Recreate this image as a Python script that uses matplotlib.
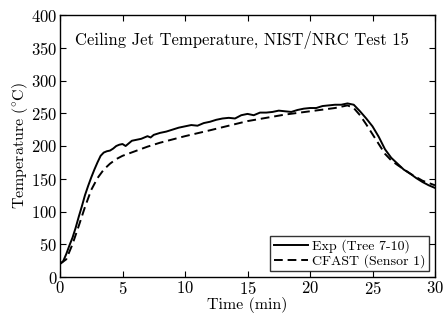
import matplotlib
matplotlib.use("Agg")
import matplotlib.pyplot as plt

plt.rcParams['font.family'] = 'serif'
plt.rcParams['font.serif'] = ['cmr10']
plt.rcParams['mathtext.fontset'] = 'cm'
plt.rcParams['axes.formatter.use_mathtext'] = True

exp_t = [0, 0.25, 0.5, 0.75, 1.0, 1.25, 1.5, 1.75, 2.0, 2.25, 2.5, 2.75, 3.0, 3.25, 3.5, 3.75, 4.0, 4.25, 4.5, 4.75, 5.0,
         5.25, 5.5, 5.75, 6.0, 6.5, 7.0, 7.25, 7.5, 8.0, 8.5, 9.0, 9.5, 10.0, 10.5, 11.0, 11.5, 12.0, 12.5, 13.0,
         13.5, 14.0, 14.5, 15.0, 15.5, 16.0, 16.5, 17.0, 17.5, 18.0, 18.5, 19.0, 19.5, 20.0, 20.5, 21.0, 21.5,
         22.0, 22.5, 23.0, 23.5, 24.0, 24.5, 25.0, 25.5, 26.0, 26.5, 27.0, 27.5, 28.0, 28.5, 29.0, 29.5, 30.0]
exp_T = [20, 24, 35, 48, 60, 75, 92, 108, 125, 139, 152, 164, 175, 185, 190, 192, 193, 196, 200, 202, 203,
         200, 204, 208, 209, 211, 215, 213, 217, 220, 222, 225, 228, 230, 232, 231, 235, 237, 240, 242,
         243, 242, 247, 249, 247, 251, 251, 252, 254, 253, 252, 255, 257, 258, 258, 261, 262, 263, 263,
         265, 263, 253, 242, 230, 214, 195, 182, 173, 164, 158, 151, 145, 140, 136]

cfast_t = [0, 0.5, 1.0, 1.5, 2.0, 2.5, 3.0, 3.5, 4.0, 4.5, 5.0, 6.0, 7.0, 8.0, 10.0, 12.0, 15.0, 18.0, 20.0,
           22.0, 23.0, 23.5, 24.0, 24.5, 25.0, 25.5, 26.0, 26.5, 27.0, 28.0, 29.0, 30.0]
cfast_T = [20, 27, 50, 78, 107, 133, 151, 164, 173, 180, 185, 192, 199, 205, 215, 224, 238, 248, 253,
           258, 262, 258, 247, 233, 218, 203, 188, 178, 171, 158, 147, 140]

fig = plt.figure(figsize=(4.45, 3.2), dpi=100)
ax = fig.add_axes([60/445, 1-277/320, 375/445, 262/320])
ax.plot(exp_t, exp_T, 'k-', lw=1.4, label='Exp (Tree 7-10)')
ax.plot(cfast_t, cfast_T, 'k--', lw=1.4, dashes=(4.5, 2.5), label='CFAST (Sensor 1)')
ax.set_xlim(0, 30)
ax.set_ylim(0, 400)
ax.set_xticks([0, 5, 10, 15, 20, 25, 30])
ax.set_yticks(range(0, 401, 50))
ax.tick_params(direction='in', top=True, right=True, labelsize=12, length=4, pad=2)
for s in ax.spines.values():
    s.set_linewidth(1.0)
ax.set_xlabel('Time (min)', fontsize=11.5, labelpad=0.5)
ax.set_ylabel(r'$\mathrm{Temperature\ (^{\circ}C)}$', fontsize=11.5, labelpad=1)
ax.text(0.485, 0.905, 'Ceiling Jet Temperature, NIST/NRC Test 15', transform=ax.transAxes,
        ha='center', va='center', fontsize=12)
leg = ax.legend(loc='lower right', fontsize=10, frameon=True, fancybox=False, edgecolor='k',
                borderpad=0.25, labelspacing=0.05, handlelength=2.5, handletextpad=0.3,
                borderaxespad=0.4)
leg.get_frame().set_linewidth(1.0)
fig.savefig('out.png', dpi=100)
